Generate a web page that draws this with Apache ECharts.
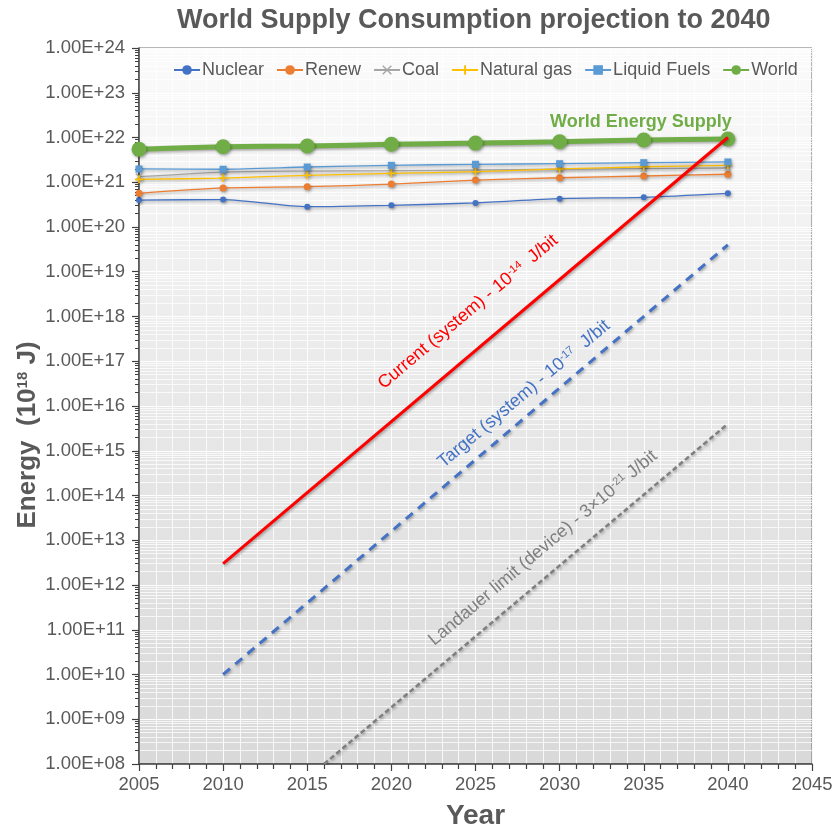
<!DOCTYPE html>
<html><head><meta charset="utf-8">
<script src="https://cdn.jsdelivr.net/npm/echarts@6/dist/echarts.min.js"></script>
<style>html,body{margin:0;padding:0;background:#fff}#c{width:837px;height:831px}</style>
</head><body><div id="c"></div>
<script>
const years = [2005, 2010, 2015, 2020, 2025, 2030, 2035, 2040];
const nuclear = [4.0e20, 4.1e20, 2.85e20, 3.05e20, 3.45e20, 4.3e20, 4.6e20, 5.65e20];
const renew = [5.65e20, 7.45e20, 7.95e20, 9.1e20, 1.12e21, 1.26e21, 1.38e21, 1.51e21];
const coal = [1.33e21, 1.69e21, 1.78e21, 1.81e21, 1.88e21, 1.95e21, 2.01e21, 2.08e21];
const naturalGas = [1.16e21, 1.24e21, 1.43e21, 1.58e21, 1.72e21, 1.98e21, 2.22e21, 2.39e21];
const liquidFuels = [1.98e21, 1.95e21, 2.19e21, 2.39e21, 2.52e21, 2.6e21, 2.74e21, 2.84e21];
const world = [5.45e21, 6.2e21, 6.45e21, 7.05e21, 7.5e21, 8.05e21, 8.8e21, 9.25e21];
const currentYears = [2010, 2040];
const currentVals = [3e12, 1e22];
const targetYears = [2010, 2040];
const targetVals = [1e10, 4e19];
const landauerYears = [2016, 2040];
const landauerVals = [1e8, 4e15];
const xTickMin = 2005, xTickMax = 2045, xTickStep = 5;
const yExpMin = 8, yExpMax = 24;

const FONT = '"Liberation Sans", Arial, sans-serif';
const TXT = '#595959';
const zip = (xs, ys) => xs.map((x, i) => [x, ys[i]]);

const plusPath = 'path://M4,0L6,0L6,4L10,4L10,6L6,6L6,10L4,10L4,6L0,6L0,4L4,4Z';
const xPath = 'path://M1,0L5,4L9,0L10,1L6,5L10,9L9,10L5,6L1,10L0,9L4,5L0,1Z';

const shadow = {shadowColor: 'rgba(0,0,0,0.35)', shadowBlur: 3, shadowOffsetX: 1, shadowOffsetY: 1.5};

function dataLine(name, vals, color, symbol, size, width, extra) {
  return Object.assign({
    name, type: 'line', data: zip(years, vals), smooth: 0.25,
    symbol, symbolSize: size, showSymbol: true,
    lineStyle: Object.assign({color, width}, shadow),
    itemStyle: Object.assign({color, borderWidth: 0}, shadow),
    emphasis: {disabled: true}, z: 3
  }, extra || {});
}

const chart = echarts.init(document.getElementById('c'), null, {renderer: 'canvas'});
const option = {
  animation: false,
  backgroundColor: '#ffffff',
  textStyle: {fontFamily: FONT},
  title: {
    text: 'World Supply Consumption projection to 2040',
    left: 172, top: 2,
    textStyle: {fontFamily: FONT, fontSize: 27, fontWeight: 'bold', color: TXT}
  },
  legend: {
    top: 56, left: 168, itemGap: 12, itemWidth: 26, itemHeight: 12,
    textStyle: {fontFamily: FONT, fontSize: 18, color: TXT, padding: [0, 0, 0, -3]},
    data: ['Nuclear', 'Renew', 'Coal', 'Natural gas', 'Liquid Fuels', 'World']
  },
  grid: {
    left: 139, right: 25, top: 48, bottom: 67,
    outerBoundsMode: 'none', containLabel: false,
    show: true, borderColor: '#6f6f6f', borderWidth: 1,
    backgroundColor: new echarts.graphic.LinearGradient(0, 0, 0, 1, [
      {offset: 0, color: '#fbfbfb'},
      {offset: 0.5, color: '#e8e8e8'},
      {offset: 1, color: '#d9d9d9'}
    ])
  },
  xAxis: {
    type: 'value', min: xTickMin, max: xTickMax, interval: xTickStep,
    name: 'Year', nameLocation: 'middle', nameGap: 38,
    nameTextStyle: {fontFamily: FONT, fontSize: 28, fontWeight: 'bold', color: TXT},
    axisLine: {show: true, onZero: false, lineStyle: {color: '#404040', width: 1.5}},
    axisTick: {show: true, length: 7, lineStyle: {color: '#404040', width: 1.2}},
    minorTick: {show: true, splitNumber: 5, length: 5, lineStyle: {color: '#404040', width: 1.2}},
    splitLine: {show: true, lineStyle: {color: 'rgba(255,255,255,0.9)', width: 1}},
    minorSplitLine: {show: true, lineStyle: {color: 'rgba(255,255,255,0.8)', width: 1}},
    axisLabel: {fontFamily: FONT, fontSize: 18.5, color: TXT, margin: 11, showMaxLabel: true,
      formatter: v => String(v)}
  },
  yAxis: {
    type: 'log', logBase: 10, min: Math.pow(10, yExpMin), max: Math.pow(10, yExpMax), interval: 1,
    axisLine: {show: true, lineStyle: {color: '#404040', width: 1.5}},
    axisTick: {show: true, length: 7, lineStyle: {color: '#404040', width: 1.2}},
    minorTick: {show: true, splitNumber: 9, length: 4, lineStyle: {color: '#404040', width: 1}},
    splitLine: {show: true, lineStyle: {color: 'rgba(255,255,255,0.95)', width: 1.2}},
    minorSplitLine: {show: true, lineStyle: {color: 'rgba(255,255,255,0.75)', width: 1}},
    axisLabel: {fontFamily: FONT, fontSize: 18.5, color: TXT, margin: 14,
      formatter: v => {
        const e = Math.round(Math.log10(v));
        return '1.00E+' + (e < 10 ? '0' + e : e);
      }}
  },
  series: [
    dataLine('Nuclear', nuclear, '#4472c4', 'circle', 6, 1.3),
    dataLine('Renew', renew, '#ed7d31', 'circle', 7, 1.3),
    dataLine('Coal', coal, '#a5a5a5', xPath, 7, 1.3),
    dataLine('Natural gas', naturalGas, '#ffc000', plusPath, 8, 1.3),
    dataLine('Liquid Fuels', liquidFuels, '#5b9bd5', 'rect', 7, 1.3),
    dataLine('World', world, '#70ad47', 'circle', 15, 5, {
      z: 4,
      markPoint: {
        symbol: 'circle', symbolSize: 2,
        itemStyle: {color: 'rgba(0,0,0,0)', shadowBlur: 0, shadowColor: 'rgba(0,0,0,0)'},
        data: [{coord: [years[years.length - 1], world[world.length - 1]], value: 0}],
        label: {show: true, formatter: 'World Energy Supply', position: 'top', offset: [-87, -2],
          fontFamily: FONT, fontSize: 18, fontWeight: 'bold', color: '#70ad47'}
      }
    }),
    {name: 'Current', type: 'line', data: zip(currentYears, currentVals), symbol: 'none',
      lineStyle: Object.assign({color: '#ff0000', width: 3}, shadow), z: 5, emphasis: {disabled: true}},
    {name: 'Target', type: 'line', data: zip(targetYears, targetVals), symbol: 'none',
      lineStyle: Object.assign({color: '#4472c4', width: 3, type: [9, 7]}, shadow), z: 5, emphasis: {disabled: true}},
    {name: 'Landauer', type: 'line', data: zip(landauerYears, landauerVals), symbol: 'none',
      lineStyle: Object.assign({color: '#7f7f7f', width: 2.5, type: [5, 3]}, shadow), z: 5, emphasis: {disabled: true}}
  ]
};
chart.setOption(option);

const ang = 0.70;
function ann(text, sup, rest, color, x, y) {
  return {
    type: 'text', x, y, rotation: ang, z: 10,
    style: {
      text: '{a|' + text + '}{s|' + sup + '}{a|' + rest + '}',
      align: 'center', verticalAlign: 'middle',
      rich: {
        a: {font: '18px ' + FONT, fill: color},
        s: {font: '11px ' + FONT, fill: color, verticalAlign: 'top'}
      }
    }
  };
}
chart.setOption({
  graphic: [
    {
      type: 'text', x: 28, y: 435, rotation: Math.PI / 2, z: 10,
      style: {
        text: '{b|Energy  (10}{s|18}{b| J)}', align: 'center', verticalAlign: 'middle',
        rich: {
          b: {font: 'bold 26px ' + FONT, fill: TXT},
          s: {font: 'bold 15px ' + FONT, fill: TXT, verticalAlign: 'top'}
        }
      }
    },
    ann('Current (system) - 10', '-14', '  J/bit', '#ff0000', 468, 312),
    ann('Target (system) - 10', '-17', '  J/bit', '#4472c4', 524, 394),
    ann('Landauer limit (device) - 3\u00d710', '-21', ' J/bit', '#7f7f7f', 543, 548)
  ]
});
</script></body></html>
